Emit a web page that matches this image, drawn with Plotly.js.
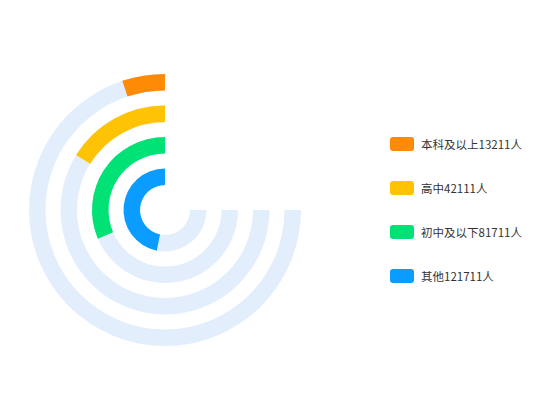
<!DOCTYPE html>
<html>
<head>
<meta charset="utf-8">
<script src="https://cdn.plot.ly/plotly-3.0.1.min.js"></script>
<style>
  html, body { margin: 0; padding: 0; background: #fff; }
  #chart { width: 550px; height: 420px; }
</style>
</head>
<body>
<div id="chart"></div>
<script>
// data, outer ring first
const names = ['本科及以上', '高中', '初中及以下', '其他'];
const values = [13211, 42111, 81711, 121711];
const colors = ['#ff8a05', '#ffc305', '#00e276', '#0a9dff'];
const trackColor = '#e3eefc';
const scaleMax = 195000;   // value that fills the 270 degree track
const trackSpan = 270;

// ring geometry (radial axis units ~ px)
const innerRadius = 25;
const ringWidth = 16.5;
const ringPitch = 31.5;

function ringBase(i) {
    // i = 0 is the outer ring
    return innerRadius + (names.length - 1 - i) * ringPitch;
}

function toDeg(v) {
    return v / scaleMax * trackSpan;
}

let traces = [];

// background tracks
traces.push({
    type: 'barpolar',
    r: names.map(() => ringWidth),
    base: names.map((n, i) => ringBase(i)),
    theta: names.map(() => trackSpan / 2),
    width: names.map(() => trackSpan),
    marker: { color: trackColor, line: { width: 0 } },
    hoverinfo: 'skip',
    showlegend: false
});

// value bars
names.forEach((name, i) => {
    traces.push({
        type: 'barpolar',
        name: name + values[i] + '人',
        r: [ringWidth],
        base: [ringBase(i)],
        theta: [toDeg(values[i]) / 2],
        width: [toDeg(values[i])],
        marker: { color: colors[i], line: { width: 0 } },
        hoverinfo: 'name',
        showlegend: false
    });
});

// hand made legend: rounded swatches and labels
let shapes = [];
let annotations = [];
const legendTop = 144, legendStep = 44;
names.forEach((name, i) => {
    const cy = legendTop + i * legendStep;
    const x0 = 390, x1 = 414, y0 = cy - 7, y1 = cy + 7, rc = 3;
    shapes.push({
        type: 'path',
        xref: 'paper', yref: 'paper', xsizemode: 'pixel', ysizemode: 'pixel',
        xanchor: 0, yanchor: 1,
        path: `M${x0 + rc},${-y0} L${x1 - rc},${-y0} Q${x1},${-y0} ${x1},${-y0 - rc} ` +
              `L${x1},${-y1 + rc} Q${x1},${-y1} ${x1 - rc},${-y1} L${x0 + rc},${-y1} ` +
              `Q${x0},${-y1} ${x0},${-y1 + rc} L${x0},${-y0 - rc} Q${x0},${-y0} ${x0 + rc},${-y0} Z`,
        fillcolor: colors[i],
        line: { width: 0 }
    });
    annotations.push({
        xref: 'paper', yref: 'paper',
        x: 419 / 550, y: 1 - cy / 420,
        xanchor: 'left', yanchor: 'middle',
        text: name + values[i] + '人',
        showarrow: false,
        font: { size: 11.5, color: '#333333' }
    });
});

let layout = {
    width: 550,
    height: 420,
    margin: { l: 0, r: 0, t: 0, b: 0 },
    paper_bgcolor: '#ffffff',
    font: { family: '"Noto Sans CJK SC", "Noto Sans", sans-serif' },
    showlegend: false,
    polar: {
        domain: { x: [28 / 550, 302 / 550], y: [1 - 347 / 420, 1 - 73 / 420] },
        bgcolor: 'rgba(0,0,0,0)',
        radialaxis: { visible: false, range: [0, 137] },
        angularaxis: { visible: false, rotation: 90, direction: 'counterclockwise' }
    },
    shapes: shapes,
    annotations: annotations
};

Plotly.newPlot('chart', traces, layout, { displayModeBar: false, staticPlot: true });
</script>
</body>
</html>
